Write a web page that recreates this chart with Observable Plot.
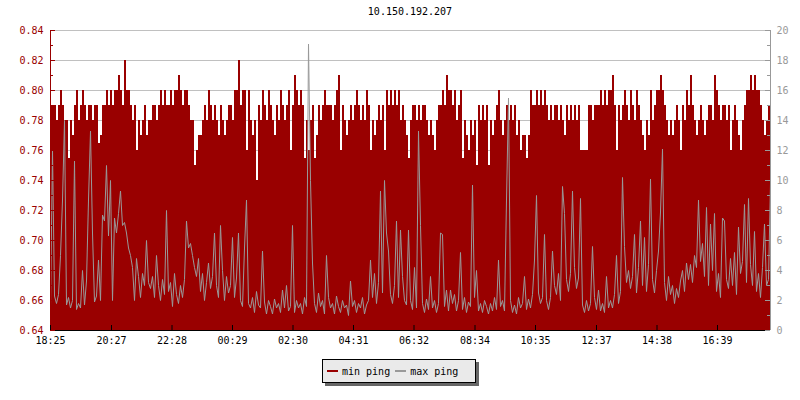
<!DOCTYPE html>
<html><head><meta charset="utf-8">
<script src="https://cdn.jsdelivr.net/npm/d3@7"></script>
<script src="https://cdn.jsdelivr.net/npm/@observablehq/plot@0.6"></script>
<style>
body{margin:0;background:#fff;}
#wrap{position:relative;width:800px;height:400px;font-family:"DejaVu Sans Mono",monospace;font-size:10px;color:#000;}
#title{position:absolute;left:50px;width:720px;top:6px;text-align:center;}
#chart{position:absolute;left:0;top:0;}
#legend{position:absolute;left:322px;top:359px;width:152px;height:22px;background:#eaeaea;border:1px solid #000;box-shadow:3px 3px 0 #666;display:flex;align-items:center;white-space:nowrap;}
.sw{display:inline-block;width:11px;height:2px;}
</style></head>
<body>
<div id="wrap">
  <div id="chart"></div>
  <div id="title"></div>
  <div id="legend"></div>
</div>
<script>
const titleText = "10.150.192.207";
const seriesNames = ["min ping", "max ping"];
const seriesColors = ["#990000", "#999999"];
const startTime = "18:25";
const stepMinutes = 4;
const xTickLabels = ["18:25","20:27","22:28","00:29","02:30","04:31","06:32","08:34","10:35","12:37","14:38","16:39"];
const leftTicks = [0.64,0.66,0.68,0.70,0.72,0.74,0.76,0.78,0.80,0.82,0.84];
const leftMinor = [0.65,0.67,0.69,0.71,0.73,0.75,0.77,0.79,0.81,0.83];
const rightTicks = [0,2,4,6,8,10,12,14,16,18,20];
const rightMinor = [1,3,5,7,9,11,13,15,17,19];

const minPing = [
0.79,0.79,0.79,0.78,0.79,0.80,0.79,0.78,0.78,0.755,
0.78,0.77,0.79,0.80,0.78,0.79,0.80,0.79,0.78,0.79,
0.79,0.78,0.79,0.79,0.765,0.77,0.79,0.79,0.80,0.79,
0.80,0.79,0.80,0.80,0.81,0.80,0.79,0.82,0.80,0.80,
0.79,0.78,0.79,0.76,0.78,0.77,0.78,0.79,0.77,0.78,
0.78,0.79,0.79,0.78,0.79,0.80,0.79,0.80,0.79,0.79,
0.80,0.79,0.80,0.80,0.81,0.80,0.79,0.80,0.80,0.79,
0.78,0.78,0.75,0.76,0.77,0.77,0.78,0.79,0.78,0.80,
0.79,0.78,0.79,0.78,0.77,0.79,0.78,0.77,0.78,0.79,
0.79,0.78,0.80,0.80,0.82,0.79,0.80,0.80,0.76,0.80,
0.78,0.77,0.78,0.74,0.79,0.78,0.80,0.79,0.78,0.80,
0.79,0.78,0.77,0.79,0.78,0.80,0.79,0.78,0.79,0.80,
0.76,0.79,0.81,0.80,0.79,0.80,0.79,0.755,0.78,0.76,
0.78,0.79,0.755,0.77,0.79,0.78,0.79,0.80,0.79,0.79,
0.79,0.78,0.79,0.80,0.81,0.76,0.79,0.78,0.77,0.78,
0.79,0.78,0.79,0.80,0.79,0.78,0.79,0.78,0.80,0.79,
0.76,0.78,0.77,0.78,0.79,0.78,0.79,0.76,0.80,0.79,
0.80,0.79,0.80,0.79,0.80,0.78,0.79,0.78,0.77,0.755,
0.78,0.79,0.79,0.78,0.79,0.78,0.79,0.79,0.78,0.77,
0.78,0.77,0.76,0.78,0.79,0.79,0.80,0.79,0.81,0.80,
0.80,0.79,0.80,0.78,0.79,0.80,0.755,0.78,0.77,0.76,
0.78,0.77,0.78,0.75,0.79,0.78,0.79,0.78,0.79,0.75,
0.78,0.77,0.78,0.79,0.80,0.78,0.77,0.78,0.79,0.78,
0.79,0.78,0.79,0.77,0.78,0.76,0.77,0.77,0.755,0.77,
0.80,0.79,0.79,0.80,0.79,0.80,0.79,0.80,0.79,0.78,
0.79,0.78,0.79,0.79,0.78,0.79,0.78,0.77,0.79,0.78,
0.79,0.78,0.79,0.78,0.79,0.76,0.76,0.76,0.76,0.79,
0.79,0.78,0.79,0.79,0.79,0.80,0.79,0.80,0.79,0.80,
0.80,0.81,0.79,0.76,0.79,0.78,0.79,0.80,0.79,0.78,
0.80,0.79,0.78,0.80,0.79,0.78,0.77,0.76,0.78,0.77,
0.80,0.78,0.79,0.80,0.80,0.81,0.80,0.79,0.78,0.77,
0.78,0.77,0.78,0.79,0.78,0.76,0.79,0.78,0.80,0.79,
0.81,0.79,0.78,0.77,0.78,0.79,0.78,0.77,0.78,0.79,
0.79,0.78,0.81,0.80,0.79,0.78,0.79,0.79,0.78,0.79,
0.76,0.78,0.79,0.78,0.77,0.76,0.78,0.79,0.80,0.80,
0.81,0.80,0.81,0.80,0.80,0.79,0.78,0.77,0.78,0.79,
0.78];

const maxPing = [
1.6,12,2.3,1.8,2.4,5.0,8.7,14,1.7,2.2,
1.5,2.0,11.3,1.4,1.8,1.5,4.0,1.7,3.3,8.7,
13.3,6.5,1.9,2.3,4.7,2.0,7.7,7.3,11,6.3,
10,2.0,7.5,6.5,7.8,9.3,7.0,7.2,6.5,5.5,
5.0,4.2,2.0,4.8,3.6,2.2,3.8,3.0,6.0,3.2,
2.8,3.6,2.2,5.0,3.0,2.0,3.4,2.4,8.0,2.6,
3.2,1.6,3.8,2.4,1.8,3.0,2.2,3.4,7.3,5.5,
5.8,5.0,4.2,3.6,4.8,2.6,3.8,2.0,3.2,4.5,
2.8,3.6,6.5,3.0,2.2,7.0,4.0,2.0,3.6,2.5,
3.0,6.2,2.2,3.5,6.5,2.0,1.6,5.5,8.7,1.8,
1.5,2.2,1.2,2.6,1.7,1.5,5.3,1.9,1.1,2.0,
1.6,1.1,2.1,1.5,1.8,1.2,2.7,1.5,3.0,1.3,
1.6,7.0,1.2,2.0,1.5,1.8,1.1,2.2,1.6,19.1,
10,4.5,1.8,1.2,2.5,1.6,2.0,1.1,5.0,2.2,
1.5,1.8,1.1,2.3,1.6,1.2,2.0,1.5,1.7,1.0,
3.3,1.6,2.0,1.2,1.8,1.5,2.2,1.1,1.7,2.0,
4.7,2.2,3.8,1.8,3.2,9.3,2.5,10,6.5,5.3,
2.4,1.8,3.0,7.3,2.2,6.7,3.6,2.0,1.7,6.7,
2.0,1.4,4.2,1.5,13.3,7.0,1.8,1.2,2.1,1.4,
3.6,1.5,2.0,1.2,1.8,6.5,6.4,1.6,2.7,1.3,
2.7,1.8,2.4,1.3,2.0,5.2,1.4,2.2,1.2,1.9,
1.6,9.7,2.2,4.0,1.3,1.8,1.2,2.0,1.6,1.1,
1.8,1.3,2.2,1.4,4.7,1.6,2.0,1.3,8.7,15.5,
2.0,1.2,1.7,1.1,2.2,1.5,1.8,3.6,1.4,2.1,
1.5,2.4,4.7,9.0,2.5,1.8,2.2,6.4,2.0,1.4,
2.2,5.3,3.0,2.4,3.8,2.0,9.6,7.8,3.4,2.6,
3.8,9.3,4.2,2.8,3.5,8.8,1.7,1.2,2.0,1.3,
1.8,5.6,2.2,1.4,2.7,1.3,1.8,1.2,3.6,1.5,
2.0,1.5,2.4,5.0,1.8,2.6,10.2,5.6,3.2,4.0,
2.8,3.6,6.4,2.5,4.2,7.3,3.0,6.2,2.6,4.4,
10.1,3.4,2.5,4.0,5.3,7.9,12.1,3.2,2.0,3.6,
2.4,3.0,1.8,2.8,2.2,3.3,4.0,2.6,4.5,3.4,
4.4,3.2,5.0,4.2,8.7,4.6,5.8,3.6,8.2,3.0,
7.1,4.0,7.8,2.6,3.8,2.2,7.5,7.3,3.4,2.8,
4.8,3.0,5.2,2.4,6.9,3.8,4.6,8.4,3.2,8.8,
4.4,3.0,6.6,2.6,3.8,2.2,4.2,7.1,3.0,3.4,
9.8];

// --- build ---
const [sh, sm] = startTime.split(":").map(Number);
const t0 = Date.UTC(2020, 0, 1, sh, sm);
const data = minPing.map((v, i) => ({t: new Date(t0 + i * stepMinutes * 60000), min: v, max: maxPing[i]}));
const xDom = [data[0].t, data[data.length - 1].t];
let day = 0, prev = -1;
const xTicks = xTickLabels.map(s => {
  const [h, m] = s.split(":").map(Number);
  const mins = h * 60 + m;
  if (mins < prev) day++;
  prev = mins;
  return new Date(Date.UTC(2020, 0, 1 + day, h, m));
});
const yDom = [leftTicks[0], leftTicks[leftTicks.length - 1]];
const rMax = rightTicks[rightTicks.length - 1];
const toY = v => yDom[0] + v * (yDom[1] - yDom[0]) / rMax;
const fromY = y => Math.round((y - yDom[0]) * rMax / (yDom[1] - yDom[0]));

const W = 800, H = 400, mL = 50, mR = 30, mT = 30, mB = 70;
const innerW = W - mL - mR, innerH = H - mT - mB;

const chart = Plot.plot({
  width: W, height: H,
  marginLeft: mL, marginRight: mR, marginTop: mT, marginBottom: mB,
  style: {fontFamily: '"DejaVu Sans Mono", monospace', fontSize: "10px", background: "transparent", overflow: "visible"},
  x: {type: "utc", domain: xDom},
  y: {domain: yDom},
  marks: [
    Plot.gridY(leftTicks, {stroke: "#c0c0c0", strokeOpacity: 1}),
    Plot.areaY(data, {x: "t", y1: () => yDom[0], y2: "min", curve: "step-after", fill: seriesColors[0], shapeRendering: "crispEdges"}),
    Plot.lineY(data, {x: "t", y: d => toY(d.max), curve: "linear", stroke: seriesColors[1], strokeWidth: 1}),
    Plot.ruleX([xDom[0]], {stroke: seriesColors[0]}),
    Plot.ruleX([xDom[1]], {stroke: "#999999"}),
    Plot.ruleY([yDom[0]], {stroke: "#000"}),
    Plot.tickY(leftTicks, {y: d => d, stroke: seriesColors[0], insetRight: innerW - 5}),
    Plot.tickY(leftMinor, {y: d => d, stroke: seriesColors[0], insetRight: innerW - 3}),
    Plot.tickY(rightTicks, {y: d => toY(d), stroke: "#999999", insetLeft: innerW - 5}),
    Plot.tickY(rightMinor, {y: d => toY(d), stroke: "#999999", insetLeft: innerW - 3}),
    Plot.tickX(xTicks, {x: d => d, stroke: "#000", insetTop: innerH - 5}),
    Plot.axisY({ticks: leftTicks, anchor: "left", tickSize: 0, tickPadding: 7, tickFormat: d => d.toFixed(2), fill: seriesColors[0], label: null}),
    Plot.axisY({ticks: rightTicks.map(toY), anchor: "right", tickSize: 0, tickPadding: 6, tickFormat: d => String(fromY(d)), fill: "#999999", label: null}),
    Plot.axisX({ticks: xTicks, tickSize: 0, tickPadding: 6, tickFormat: d3.utcFormat("%H:%M"), fill: "#000", label: null})
  ]
});
document.getElementById("chart").appendChild(chart);
document.getElementById("title").textContent = titleText;

const legend = document.getElementById("legend");
seriesNames.forEach((name, i) => {
  const sw = document.createElement("span");
  sw.className = "sw";
  sw.style.background = seriesColors[i];
  sw.style.marginLeft = i === 0 ? "4px" : "5px";
  sw.style.marginRight = "4px";
  legend.appendChild(sw);
  const tx = document.createElement("span");
  tx.textContent = name;
  legend.appendChild(tx);
});
</script>
</body></html>
